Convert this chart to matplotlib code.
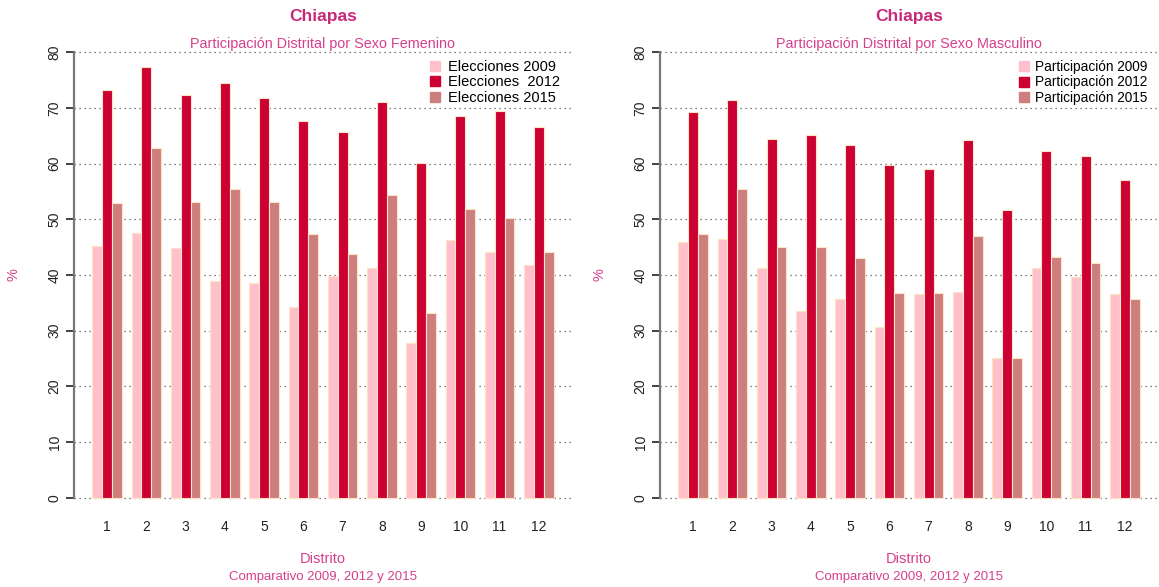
import numpy as np
import matplotlib.pyplot as plt
from matplotlib.lines import Line2D

plt.rcParams['font.family'] = ['Liberation Sans', 'DejaVu Sans']

# ---- datos ----
distritos = [str(i) for i in range(1, 13)]

fem_2009 = [45.2, 47.5, 44.8, 38.9, 38.6, 34.3, 39.9, 41.2, 27.8, 46.2, 44.1, 41.8]
fem_2012 = [73.2, 77.3, 72.3, 74.4, 71.8, 67.7, 65.6, 71.0, 60.2, 68.6, 69.5, 66.5]
fem_2015 = [53.0, 62.9, 53.2, 55.5, 53.1, 47.3, 43.8, 54.3, 33.2, 51.9, 50.3, 44.2]

mas_2009 = [45.9, 46.5, 41.2, 33.5, 35.6, 30.7, 36.6, 37.0, 25.1, 41.3, 39.7, 36.5]
mas_2012 = [69.3, 71.5, 64.5, 65.2, 63.3, 59.8, 59.1, 64.3, 51.7, 62.3, 61.4, 57.1]
mas_2015 = [47.3, 55.4, 45.1, 45.1, 43.0, 36.7, 36.8, 47.0, 25.1, 43.2, 42.2, 35.6]

leyenda_fem = ['Elecciones 2009', 'Elecciones  2012', 'Elecciones 2015']
leyenda_mas = ['Participación 2009', 'Participación 2012', 'Participación 2015']

colores = ['#FFC0CB', '#CC0033', '#CD7F7F']
borde = '#FFE4C4'
rosa_titulo = '#C8297A'
rosa_texto = '#D6408E'

W, H = 1159, 587
fig = plt.figure(figsize=(W / 100, H / 100), dpi=100)


def px_axes(x0, x1, y0, y1):
    # coordenadas en pixeles (origen arriba a la izquierda)
    return fig.add_axes([x0 / W, 1 - y1 / H, (x1 - x0) / W, (y1 - y0) / H])


def panel(x0, x1, series, etiquetas, subtitulo, leg_x, leg_fs):
    ax = px_axes(x0, x1, 34.5, 515.5)
    n = len(distritos)
    base = np.arange(n) * 4
    for j, (vals, c) in enumerate(zip(series, colores)):
        ax.bar(base + 1.5 + j, vals, width=1, color=c, edgecolor=borde,
               linewidth=0.8, zorder=2)
    ax.set_xlim(-0.88, 49.88)
    ax.set_ylim(-3.2, 83.2)
    ax.set_yticks(range(0, 81, 10))
    ax.set_yticklabels([str(v) for v in range(0, 81, 10)], rotation=90,
                       va='center', fontsize=10, color='#222222')
    ax.yaxis.grid(True, linestyle=(0, (1, 3)), color='#555555', linewidth=0.9)
    ax.set_axisbelow(True)
    for s in ['top', 'right', 'bottom']:
        ax.spines[s].set_visible(False)
    ax.spines['left'].set_bounds(0, 80)
    ax.spines['left'].set_color('#777777')
    ax.spines['left'].set_linewidth(1.6)
    ax.tick_params(axis='y', length=6, width=1.2, color='#222222', pad=3)
    ax.set_xticks(base + 2.5)
    ax.set_xticklabels(distritos, fontsize=10, color='#222222')
    ax.tick_params(axis='x', length=0, pad=3)

    cx = (x0 + x1) / 2 / W
    fig.text(cx, 1 - 17 / H, 'Chiapas', ha='center', va='center',
             fontsize=12.5, fontweight='bold', color=rosa_titulo)
    fig.text(cx, 1 - 44 / H, subtitulo, ha='center', va='center',
             fontsize=10.4, color=rosa_texto)
    fig.text(cx, 1 - 559 / H, 'Distrito', ha='center', va='center',
             fontsize=10.5, color=rosa_texto)
    fig.text(cx, 1 - 577 / H, 'Comparativo 2009, 2012 y 2015', ha='center',
             va='center', fontsize=9.5, color=rosa_texto)
    fig.text((x0 - 60) / W, 1 - 275 / H, '%', ha='center', va='center',
             rotation=90, fontsize=10.5, color=rosa_texto)

    handles = [Line2D([], [], marker='s', ls='', color=c, markersize=6.5)
               for c in colores]
    ax.legend(handles, etiquetas, loc='upper left',
              bbox_to_anchor=(leg_x / W, 1 - 60 / H),
              bbox_transform=fig.transFigure, frameon=False, fontsize=leg_fs,
              handlelength=0.7, handletextpad=0.5, labelspacing=0.1,
              borderpad=0, borderaxespad=0)
    return ax


panel(74, 572, [fem_2009, fem_2012, fem_2015], leyenda_fem,
      'Participación Distrital por Sexo Femenino', 430, 10.5)
panel(660, 1158, [mas_2009, mas_2012, mas_2015], leyenda_mas,
      'Participación Distrital por Sexo Masculino', 1019, 9.8)

fig.savefig('out.png', dpi=100)
